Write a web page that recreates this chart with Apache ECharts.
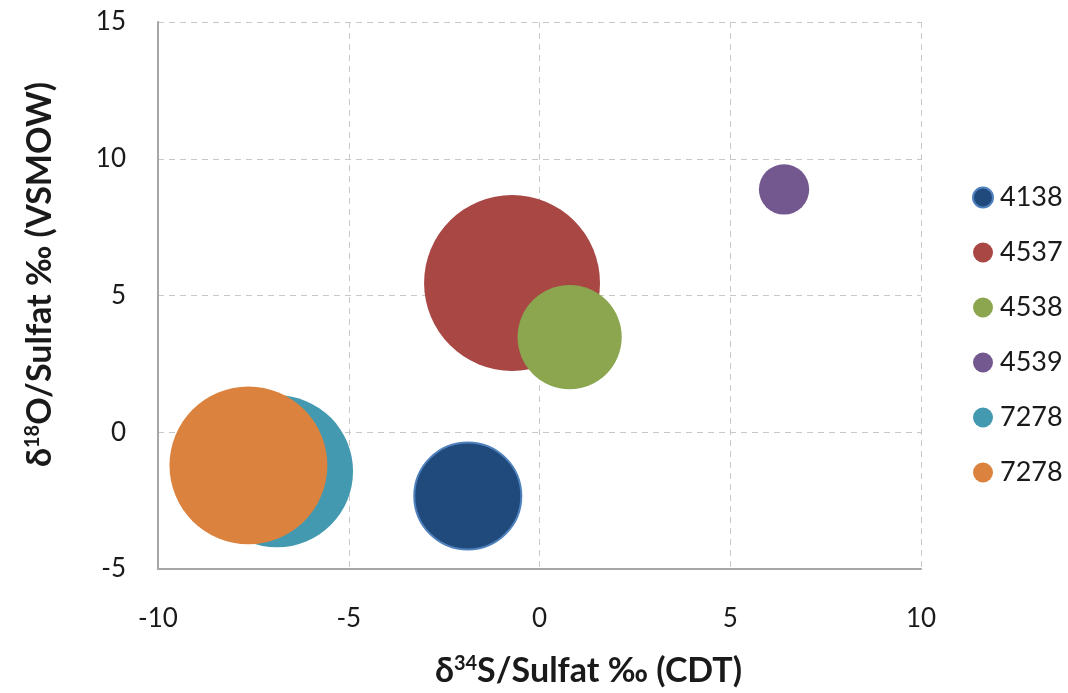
<!DOCTYPE html>
<html>
<head>
<meta charset="utf-8">
<script src="https://cdn.jsdelivr.net/npm/echarts@6/dist/echarts.min.js"></script>
<style>
  html, body { margin: 0; padding: 0; background: #fff; }
  #chart { width: 1068px; height: 693px; }
</style>
</head>
<body>
<div id="chart"></div>
<script>
  // Probennamen (zweimal 7278, daher Leerzeichen am zweiten)
  var names = ['4138', '4537', '4538', '4539', '7278', '7278 '];
  var d34S = [-1.88, -0.72, 0.79, 6.41, -6.88, -7.63];
  var d18O = [-2.33, 5.46, 3.48, 8.88, -1.43, -1.21];
  var bubbleSize = [2.85, 7.7, 2.7, 0.63, 5.75, 6.2];
  var colors = ['#214A7C', '#A84744', '#8BA64F', '#72588F', '#4399B0', '#DB833E'];
  var xTicks = [-10, -5, 0, 5, 10];
  var yTicks = [-5, 0, 5, 10, 15];

  var font = 'Lato, "Noto Sans", sans-serif';
  var chart = echarts.init(document.getElementById('chart'));

  var series = names.map(function (n, i) {
    return {
      name: n,
      type: 'scatter',
      data: [[d34S[i], d18O[i], bubbleSize[i]]],
      symbolSize: function (v) { return 2 * 31.7 * Math.sqrt(v[2]); },
      itemStyle: i === 0
        ? { color: colors[i], opacity: 1, borderColor: '#4F81BD', borderWidth: 2 }
        : { color: colors[i], opacity: 1 },
      emphasis: { disabled: true },
      z: 2 + i
    };
  });

  var titleRich = {
    a: { fontSize: 34, fontWeight: 'bold', color: '#1a1a1a', fontFamily: font },
    s: { fontSize: 20, fontWeight: 'bold', color: '#1a1a1a', fontFamily: font, verticalAlign: 'top', padding: [0, 0, 12, 0] }
  };

  chart.setOption({
    animation: false,
    color: colors,
    grid: { left: 158, top: 22, right: 147, bottom: 121, containLabel: false },
    legend: {
      orient: 'vertical',
      left: 972,
      top: 184,
      padding: 0,
      itemWidth: 20,
      itemHeight: 20,
      itemGap: 28,
      icon: 'circle',
      formatter: function (n) { return n.trim(); },
      textStyle: { fontSize: 27, lineHeight: 20, color: '#1a1a1a', fontFamily: font, padding: [0, 0, 0, 2] },
      data: names
    },
    xAxis: {
      type: 'value',
      min: xTicks[0], max: xTicks[xTicks.length - 1], interval: 5,
      name: '{a|δ}{s|34}{a|S/Sulfat ‰ (CDT)}',
      nameLocation: 'middle',
      nameGap: 85,
      nameTextStyle: { rich: titleRich, padding: [0, 0, 0, 98] },
      axisLine: { show: true, onZero: false, lineStyle: { color: '#A6A6A6', width: 2 } },
      axisTick: { show: false },
      axisLabel: { fontSize: 26, color: '#1a1a1a', fontFamily: font, margin: 37 },
      splitLine: { show: true, lineStyle: { color: '#C8C8C8', type: [6, 5], width: 1 } }
    },
    yAxis: {
      type: 'value',
      min: yTicks[0], max: yTicks[yTicks.length - 1], interval: 5,
      name: '{a|δ}{s|18}{a|O/Sulfat ‰ (VSMOW)}',
      nameLocation: 'middle',
      nameGap: 101,
      nameTextStyle: { rich: titleRich, padding: [0, 0, 0, 42] },
      axisLine: { show: true, onZero: false, lineStyle: { color: '#A6A6A6', width: 2 } },
      axisTick: { show: false },
      axisLabel: { fontSize: 26, color: '#1a1a1a', fontFamily: font, margin: 32 },
      splitLine: { show: true, lineStyle: { color: '#C8C8C8', type: [6, 5], width: 1 } }
    },
    series: series
  });
</script>
</body>
</html>
